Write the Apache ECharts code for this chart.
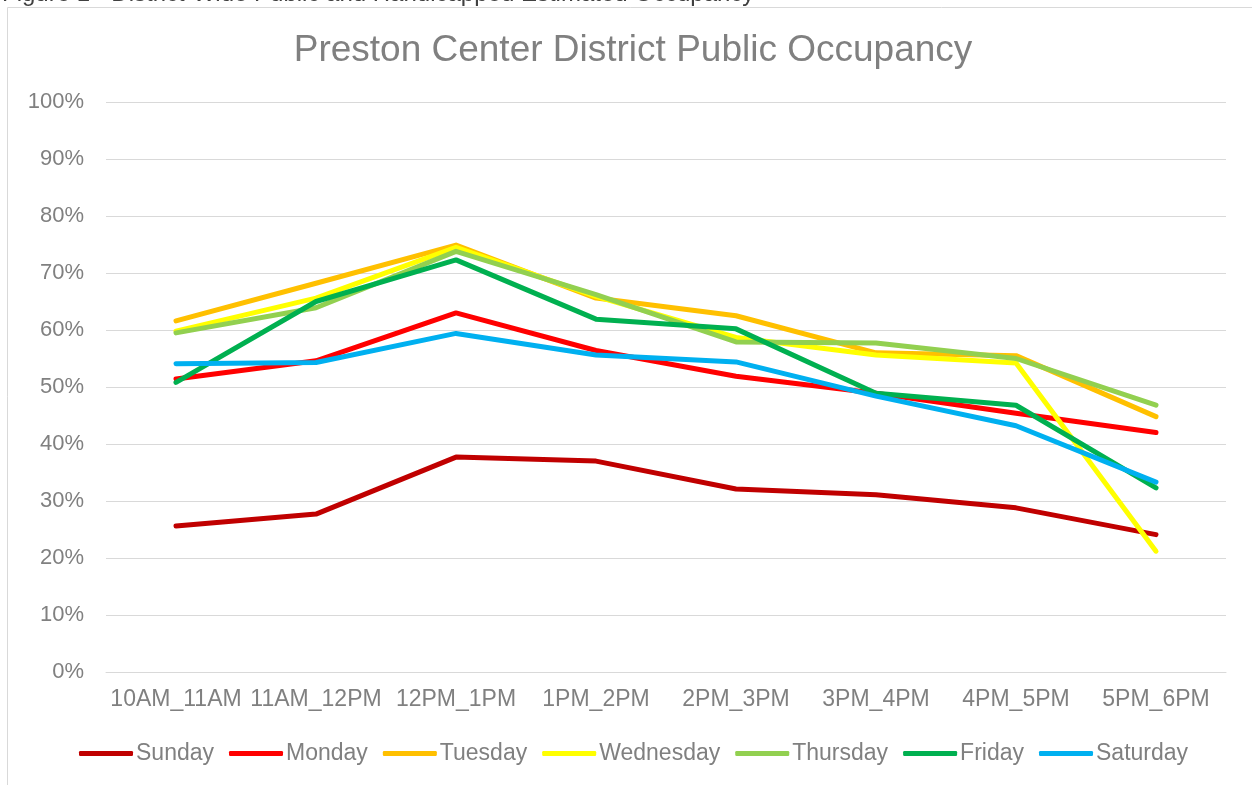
<!DOCTYPE html>
<html>
<head>
<meta charset="utf-8">
<script src="https://cdn.jsdelivr.net/npm/echarts@6/dist/echarts.min.js"></script>
<style>
  html, body { margin: 0; padding: 0; background: #fff; }
  #main { width: 1252px; height: 785px; }
</style>
</head>
<body>
<div id="main"></div>
<script>
var categories = ['10AM_11AM', '11AM_12PM', '12PM_1PM', '1PM_2PM', '2PM_3PM', '3PM_4PM', '4PM_5PM', '5PM_6PM'];

var sunday    = [25.6, 27.7, 37.7, 37.0, 32.1, 31.1, 28.8, 24.1];
var monday    = [51.4, 54.6, 63.0, 56.4, 51.9, 48.9, 45.4, 42.0];
var tuesday   = [61.6, 68.2, 74.9, 65.6, 62.5, 56.0, 55.5, 44.8];
var wednesday = [59.8, 65.6, 74.5, 65.9, 58.7, 55.6, 54.2, 21.2];
var thursday  = [59.5, 63.9, 73.8, 66.2, 57.9, 57.7, 55.0, 46.8];
var friday    = [50.8, 65.0, 72.3, 61.9, 60.2, 48.9, 46.8, 32.3];
var saturday  = [54.1, 54.3, 59.4, 55.6, 54.4, 48.4, 43.2, 33.3];

var dayNames = ['Sunday', 'Monday', 'Tuesday', 'Wednesday', 'Thursday', 'Friday', 'Saturday'];
var dayValues = [sunday, monday, tuesday, wednesday, thursday, friday, saturday];
var dayColors = ['#C00000', '#FF0000', '#FFC000', '#FFFF00', '#92D050', '#00B050', '#00B0F0'];

var myChart = echarts.init(document.getElementById('main'));

var seriesList = dayNames.map(function (name, i) {
    return {
        name: name,
        type: 'line',
        data: dayValues[i],
        symbol: 'none',
        lineStyle: { width: 5, color: dayColors[i], cap: 'round', join: 'round' },
        itemStyle: { color: dayColors[i] }
    };
});

var option = {
    animation: false,
    backgroundColor: '#fff',
    textStyle: { fontFamily: 'Liberation Sans, Arial, sans-serif' },
    title: {
        text: 'Preston Center District Public Occupancy',
        left: 628,
        textAlign: 'center',
        top: 27,
        textStyle: { fontSize: 37, fontWeight: 'normal', color: '#808080' }
    },
    graphic: [
        {
            type: 'rect',
            shape: { x: 7.5, y: 7.5, width: 1260, height: 800 },
            style: { fill: null, stroke: '#d9d9d9', lineWidth: 1 },
            silent: true
        },
        {
            type: 'text',
            left: 2,
            top: -18,
            style: {
                text: 'Figure 1 - District-Wide Public and Handicapped Estimated Occupancy',
                font: '24px Liberation Sans, Arial, sans-serif',
                fill: '#404040'
            },
            silent: true
        }
    ],
    legend: {
        data: dayNames.map(function (name) { return { name: name, icon: 'roundRect' }; }),
        bottom: 15,
        left: 74,
        itemWidth: 54,
        itemHeight: 5,
        itemGap: 15,
        textStyle: { fontSize: 23, color: '#808080', padding: [0, 0, 0, -2] }
    },
    grid: { left: 106, right: 26, top: 102, bottom: 113 },
    xAxis: {
        type: 'category',
        data: categories,
        boundaryGap: true,
        axisLine: { lineStyle: { color: '#d9d9d9', width: 1 } },
        axisTick: { show: false },
        axisLabel: { interval: 0, fontSize: 23, color: '#808080', margin: 16 }
    },
    yAxis: {
        type: 'value',
        min: 0,
        max: 100,
        interval: 10,
        axisLine: { show: false },
        axisTick: { show: false },
        splitLine: { lineStyle: { color: '#d9d9d9', width: 1 } },
        axisLabel: { formatter: '{value}%', fontSize: 22, color: '#808080', margin: 22 }
    },
    series: seriesList
};

myChart.setOption(option, true);
</script>
</body>
</html>
